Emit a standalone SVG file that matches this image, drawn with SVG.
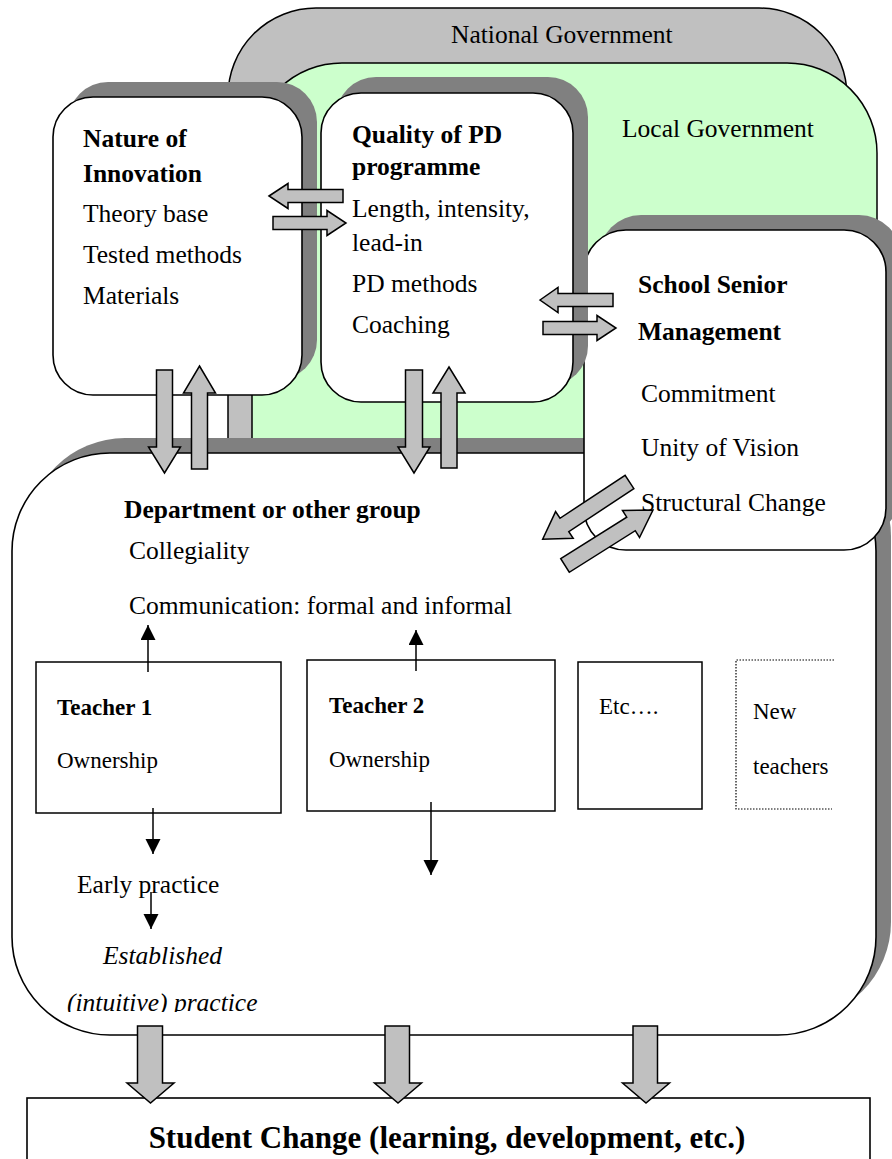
<svg xmlns="http://www.w3.org/2000/svg" width="892" height="1159" viewBox="0 0 892 1159">
<style>
text{font-family:"Liberation Serif","Times New Roman",serif;font-size:25.5px;fill:#000}
.b{font-weight:bold}
.i{font-style:italic}
.s{font-size:23px}
.box{fill:#fff;stroke:#000;stroke-width:1.6}
.sh{fill:#808080}
.blk{fill:#c0c0c0;stroke:#000;stroke-width:1.5;stroke-linejoin:miter}
.ln{stroke:#000;stroke-width:1.5;fill:none}
</style>
<defs>
<marker id="ah" markerUnits="userSpaceOnUse" markerWidth="16" markerHeight="16" refX="15" refY="7.5" orient="auto">
<path d="M0,0 L15,7.5 L0,15 z" fill="#000"/>
</marker>
<clipPath id="clipTxt"><rect x="0" y="900" width="892" height="112"/></clipPath>
</defs>

<g id="national-government">
<rect x="228" y="8" width="619" height="600" rx="88" ry="88" fill="#c0c0c0" stroke="#000" stroke-width="1.5"/>
<text x="451" y="43">National Government</text>
</g>

<g id="local-government">
<rect x="252" y="63" width="625" height="560" rx="90" ry="90" fill="#ccffcc" stroke="#000" stroke-width="1.5"/>
<text x="622" y="137">Local Government</text>
</g>

<g id="department">
<rect class="sh" x="27" y="438" width="864" height="582" rx="98" ry="98"/>
<rect class="box" x="12" y="453" width="864" height="582" rx="98" ry="98"/>
<text class="b" x="124" y="518">Department or other group</text>
<text x="129" y="559">Collegiality</text>
<text x="129" y="614">Communication: formal and informal</text>
</g>

<g id="school-senior-management">
<rect class="sh" x="599" y="215" width="302" height="320" rx="42" ry="42"/>
<rect class="box" x="584" y="230" width="302" height="320" rx="42" ry="42"/>
</g>

<g id="pd-programme">
<rect class="sh" x="336" y="77" width="252" height="309" rx="40" ry="40"/>
<rect class="box" x="321" y="93" width="252" height="309" rx="40" ry="40"/>
<text class="b" x="352" y="143">Quality of PD</text>
<text class="b" x="352" y="175">programme</text>
<text x="352" y="217">Length, intensity,</text>
<text x="352" y="251">lead-in</text>
<text x="352" y="292">PD methods</text>
<text x="352" y="333">Coaching</text>
</g>

<g id="nature-of-innovation">
<rect class="sh" x="68" y="82" width="249" height="298" rx="40" ry="40"/>
<rect class="box" x="53" y="97" width="249" height="298" rx="40" ry="40"/>
<text class="b" x="83" y="147">Nature of</text>
<text class="b" x="83" y="182">Innovation</text>
<text x="83" y="222">Theory base</text>
<text x="83" y="263">Tested methods</text>
<text x="83" y="304">Materials</text>
</g>

<g id="teacher-1">
<rect x="36" y="662" width="245" height="151" fill="#fff" stroke="#000" stroke-width="1.5"/>
<text class="b s" x="57" y="715">Teacher 1</text>
<text class="s" x="57" y="768">Ownership</text>
</g>

<g id="teacher-2">
<rect x="307" y="660" width="248" height="151" fill="#fff" stroke="#000" stroke-width="1.5"/>
<text class="b s" x="329" y="713">Teacher 2</text>
<text class="s" x="329" y="767">Ownership</text>
</g>

<g id="etc">
<rect x="578" y="662" width="124" height="147" fill="#fff" stroke="#000" stroke-width="1.5"/>
<text class="s" x="599" y="714">Etc….</text>
</g>

<g id="new-teachers">
<path d="M834,660 H736 V809 H832" fill="none" stroke="#000" stroke-width="1.2" stroke-dasharray="1.5,1.5"/>
<text class="s" x="753" y="719">New</text>
<text class="s" x="753" y="774">teachers</text>
</g>

<g id="practice">
<text x="77" y="893">Early practice</text>
<text class="i" x="103" y="964">Established</text>
<text class="i" x="67" y="1011" clip-path="url(#clipTxt)">(intuitive) practice</text>
</g>

<g id="student-change">
<rect x="27" y="1098" width="843" height="80" fill="#fff" stroke="#000" stroke-width="1.6"/>
<text class="b" x="447" y="1148" text-anchor="middle" style="font-size:31px">Student Change (learning, development, etc.)</text>
</g>

<g id="connectors">
<!-- Nature <-> PD -->
<polygon class="blk" points="269,196 288,183.5 288,189.5 343,189.5 343,202.5 288,202.5 288,208.5"/>
<polygon class="blk" points="273,216.5 327,216.5 327,210.5 346,223 327,235.5 327,229.5 273,229.5"/>
<!-- PD <-> SSM -->
<polygon class="blk" points="540,300 558,287.5 558,293.5 613,293.5 613,306.5 558,306.5 558,312.5"/>
<polygon class="blk" points="543,321.5 597,321.5 597,315.5 616,328 597,340.5 597,334.5 543,334.5"/>
<!-- Nature <-> Department -->
<polygon class="blk" points="156.5,370 172.5,370 172.5,447 180.5,447 164.5,473 148.5,447 156.5,447"/>
<polygon class="blk" points="199.5,366 215.5,393 207.5,393 207.5,469 191.5,469 191.5,393 183.5,393"/>
<!-- PD <-> Department -->
<polygon class="blk" points="405.5,370 422.5,370 422.5,447 430,447 414,473 398,447 405.5,447"/>
<polygon class="blk" points="449,367 465,393 457,393 457,468 441,468 441,393 433,393"/>
<!-- SSM <-> Department (diagonal) -->
<polygon class="blk" transform="translate(629.5,482) rotate(146.6)" points="0,-8 78,-8 78,-16 104,0 78,16 78,8 0,8"/>
<polygon class="blk" transform="translate(565,565.5) rotate(-32.2)" points="0,-8 78,-8 78,-16 104,0 78,16 78,8 0,8"/>
<!-- Department -> Student change -->
<polygon class="blk" points="137.5,1026 162.5,1026 162.5,1083 174,1083 150.5,1103 127,1083 137.5,1083"/>
<polygon class="blk" points="385,1026 409.5,1026 409.5,1083 421.5,1083 398,1103 374.5,1083 385,1083"/>
<polygon class="blk" points="633,1026 657.5,1026 657.5,1083 669.5,1083 646,1103 622.5,1083 633,1083"/>
<!-- thin arrows -->
<line class="ln" x1="148" y1="672" x2="148" y2="625" marker-end="url(#ah)"/>
<line class="ln" x1="416" y1="671" x2="416" y2="630" marker-end="url(#ah)"/>
<line class="ln" x1="153" y1="808" x2="153" y2="854" marker-end="url(#ah)"/>
<line class="ln" x1="151" y1="892" x2="151" y2="929" marker-end="url(#ah)"/>
<line class="ln" x1="431" y1="802" x2="431" y2="875" marker-end="url(#ah)"/>
</g>

<g id="ssm-text">
<text class="b" x="638" y="293">School Senior</text>
<text class="b" x="638" y="340">Management</text>
<text x="641" y="402">Commitment</text>
<text x="641" y="456">Unity of Vision</text>
<text x="641" y="511">Structural Change</text>
</g>
</svg>
